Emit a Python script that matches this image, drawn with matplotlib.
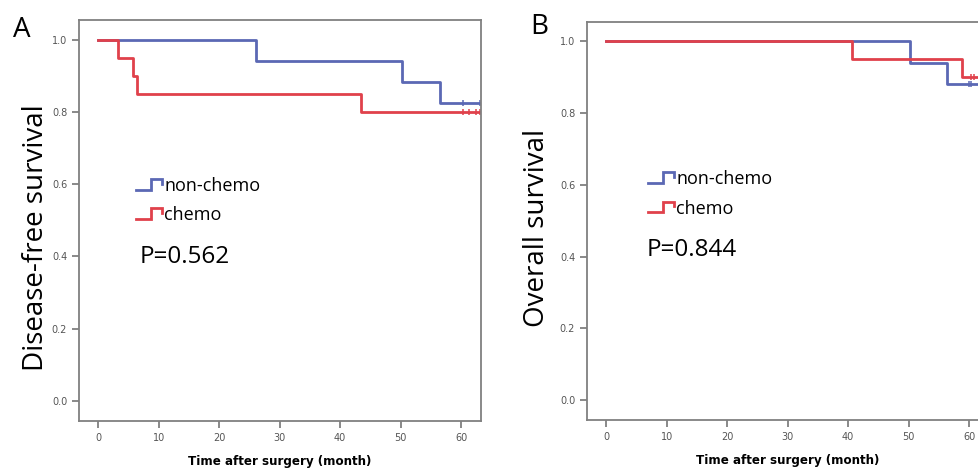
import matplotlib
matplotlib.use("Agg")
import matplotlib.pyplot as plt
from matplotlib.legend_handler import HandlerBase
from matplotlib.lines import Line2D

# panel A: disease-free survival
dfs_nonchemo_t = [0, 26.0, 50.3, 56.5, 63.2]
dfs_nonchemo_s = [1.0, 0.941, 0.882, 0.824, 0.824]
dfs_nonchemo_cens = [60.4, 63.2]
dfs_chemo_t = [0, 3.3, 5.7, 6.4, 43.4, 63.2]
dfs_chemo_s = [1.0, 0.95, 0.90, 0.85, 0.80, 0.80]
dfs_chemo_cens = [60.3, 61.3, 62.4, 63.2]

# panel B: overall survival
os_nonchemo_t = [0, 50.3, 56.4, 63.3]
os_nonchemo_s = [1.0, 0.941, 0.882, 0.882]
os_nonchemo_cens = [60.0, 60.4]
os_chemo_t = [0, 40.7, 58.8, 63.3]
os_chemo_s = [1.0, 0.95, 0.90, 0.90]
os_chemo_cens = [60.3, 60.8]

group_labels = ["non-chemo", "chemo"]
x_ticks = [0, 10, 20, 30, 40, 50, 60]
y_ticks = [0.0, 0.2, 0.4, 0.6, 0.8, 1.0]

BLUE = "#5b68b4"
RED = "#e0414b"
FRAME = "#808080"
BIGFONT = "Open Sans"


class StepHandler(HandlerBase):
    # little step glyph like the SPSS legend
    def create_artists(self, legend, orig_handle, xdescent, ydescent,
                       width, height, fontsize, trans):
        w, h = width, height
        x0, y0 = -xdescent, -ydescent
        xs = [x0, x0 + 0.58 * w, x0 + 0.58 * w, x0 + w, x0 + w]
        ys = [y0 + 0.1 * h, y0 + 0.1 * h, y0 + 0.95 * h, y0 + 0.95 * h, y0 + 0.6 * h]
        ln = Line2D(xs, ys, color=orig_handle.get_color(), lw=2, transform=trans,
                    solid_joinstyle="miter")
        return [ln]


def km_panel(ax, curves, ptext, legend_xy, p_xy):
    handles = []
    for t, s, cens, col in curves:
        ln, = ax.step(t, s, where="post", color=col, lw=2)
        cy = [s[-1]] * len(cens)
        ax.plot(cens, cy, ls="none", marker="|", ms=5, mew=1.1, color=col)
        handles.append(ln)
    ax.set_xlim(-3.2, 63.3)
    ax.set_ylim(-0.055, 1.054)
    ax.set_xticks(x_ticks)
    ax.set_yticks(y_ticks)
    ax.set_yticklabels(["%.1f" % v for v in y_ticks])
    for sp in ax.spines.values():
        sp.set_color(FRAME)
        sp.set_linewidth(1.3)
    ax.tick_params(colors=FRAME, labelcolor="#555555", labelsize=7, length=5, width=1.3)
    ax.set_xlabel("Time after surgery (month)", fontsize=8.6, fontweight="bold",
                  family="DejaVu Sans", labelpad=9)
    ax.legend(handles, group_labels, loc="upper left", bbox_to_anchor=legend_xy,
              frameon=False, handler_map={Line2D: StepHandler()},
              handlelength=1.45, handletextpad=0.12, labelspacing=0.62,
              borderpad=0, borderaxespad=0,
              prop={"family": BIGFONT, "size": 13})
    ax.text(p_xy[0], p_xy[1], ptext, transform=ax.transAxes, va="center", ha="left",
            family=BIGFONT, fontsize=17.5)


fig = plt.figure(figsize=(9.79, 4.69), dpi=100)
axA = fig.add_axes([0.0807, 0.1023, 0.4106, 0.8551])
axB = fig.add_axes([0.5996, 0.1045, 0.4106, 0.8486])

km_panel(axA,
         [(dfs_nonchemo_t, dfs_nonchemo_s, dfs_nonchemo_cens, BLUE),
          (dfs_chemo_t, dfs_chemo_s, dfs_chemo_cens, RED)],
         "P=0.562", (0.142, 0.608), (0.152, 0.409))
km_panel(axB,
         [(os_nonchemo_t, os_nonchemo_s, os_nonchemo_cens, BLUE),
          (os_chemo_t, os_chemo_s, os_chemo_cens, RED)],
         "P=0.844", (0.152, 0.627), (0.149, 0.427))

fig.text(36 / 979, 1 - 238 / 469, "Disease-free survival", rotation=90, ha="center",
         va="center", family=BIGFONT, fontsize=20)
fig.text(537 / 979, 1 - 228 / 469, "Overall survival", rotation=90, ha="center",
         va="center", family=BIGFONT, fontsize=20)
fig.text(22 / 979, 1 - 30 / 469, "A", ha="center", va="center", family=BIGFONT, fontsize=20)
fig.text(539 / 979, 1 - 27 / 469, "B", ha="center", va="center", family=BIGFONT, fontsize=20)

fig.savefig("out.png", dpi=100)
